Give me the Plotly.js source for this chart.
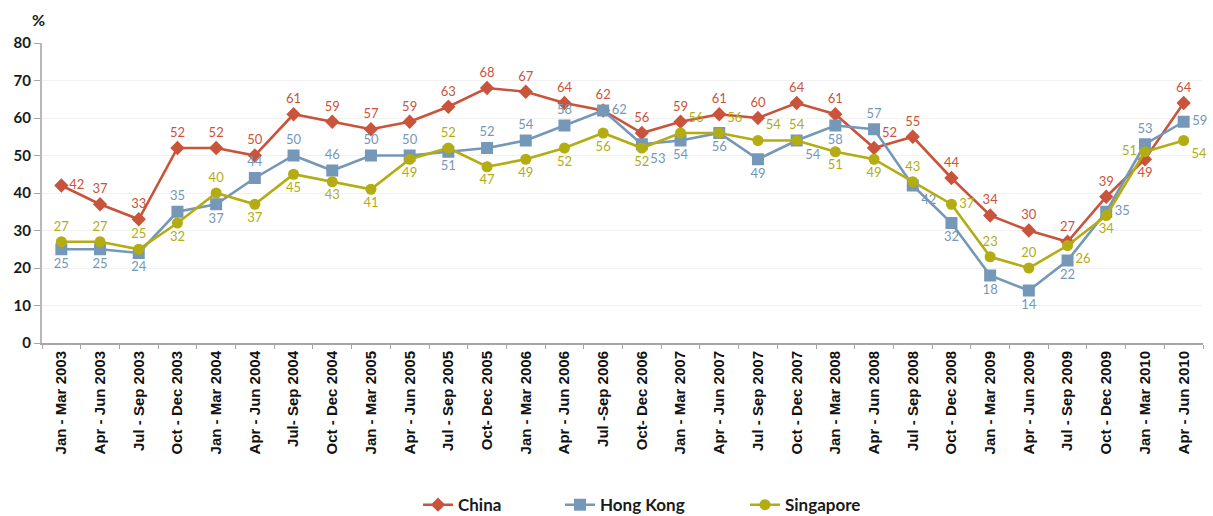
<!DOCTYPE html>
<html>
<head>
<meta charset="utf-8">
<script src="https://cdn.plot.ly/plotly-3.0.1.min.js"></script>
<style>
  html, body { margin: 0; padding: 0; background: #ffffff; }
  #chart { width: 1213px; height: 516px; }
</style>
</head>
<body>
<div id="chart"></div>
<script>
// Quarterly periods, 2003 to mid-2010
const periods = [
  "Jan - Mar 2003", "Apr - Jun 2003", "Jul - Sep 2003", "Oct - Dec 2003",
  "Jan - Mar 2004", "Apr - Jun 2004", "Jul- Sep 2004", "Oct - Dec 2004",
  "Jan - Mar 2005", "Apr - Jun 2005", "Jul - Sep 2005", "Oct- Dec 2005",
  "Jan - Mar 2006", "Apr - Jun 2006", "Jul -Sep 2006", "Oct- Dec 2006",
  "Jan - Mar 2007", "Apr - Jun 2007", "Jul - Sep 2007", "Oct - Dec 2007",
  "Jan - Mar 2008", "Apr - Jun 2008", "Jul - Sep 2008", "Oct - Dec 2008",
  "Jan - Mar 2009", "Apr - Jun 2009", "Jul - Sep 2009", "Oct - Dec 2009",
  "Jan - Mar 2010", "Apr - Jun 2010"
];

// Percentages per series
const china = [42, 37, 33, 52, 52, 50, 61, 59, 57, 59, 63, 68, 67, 64, 62, 56,
               59, 61, 60, 64, 61, 52, 55, 44, 34, 30, 27, 39, 49, 64];
const hongKong = [25, 25, 24, 35, 37, 44, 50, 46, 50, 50, 51, 52, 54, 58, 62, 53,
                  54, 56, 49, 54, 58, 57, 42, 32, 18, 14, 22, 35, 53, 59];
const singapore = [27, 27, 25, 32, 40, 37, 45, 43, 41, 49, 52, 47, 49, 52, 56, 52,
                   56, 56, 54, 54, 51, 49, 43, 37, 23, 20, 26, 34, 51, 54];

const yTicks = [0, 10, 20, 30, 40, 50, 60, 70, 80];

// Label placement for each series (style only)
const T = "top center", B = "bottom center", R = "middle right", L = "middle left",
      TR = "top right", BR = "bottom right";
const chinaPos = [R, T, T, T, T, T, T, T, T, T, T, T, T, T, T, T,
                  T, T, T, T, T, TR, T, T, T, T, T, T, B, T];
const hkPos = [B, B, B, T, B, T, T, T, T, T, B, T, T, T, R, BR,
               B, B, B, BR, B, T, BR, B, B, B, B, R, T, R];
const sgPos = [T, T, T, B, T, B, B, B, B, B, T, B, B, B, B, B,
               TR, TR, TR, T, B, B, T, R, T, T, BR, B, L, BR];

const COL_CN = "#c9533b";
const COL_HK = "#7597b8";
const COL_SG = "#b3ac12";

function series(name, y, color, symbol, size, pos, legendId) {
  return {
    type: "scatter",
    mode: "lines+markers+text",
    name: name,
    x: periods,
    y: y,
    text: y.map(String),
    textposition: pos,
    textfont: { family: "Lato, 'Open Sans', sans-serif", size: 13, color: color },
    line: { color: color, width: 2.6 },
    marker: { color: color, symbol: symbol, size: size },
    cliponaxis: false,
    legend: legendId,
    hoverinfo: "x+y+name"
  };
}

const data = [
  series("China", china, COL_CN, "diamond", 11, chinaPos, "legend"),
  series("Hong Kong", hongKong, COL_HK, "square", 12, hkPos, "legend2"),
  series("Singapore", singapore, COL_SG, "circle", 11, sgPos, "legend3")
];

function legendAt(x) {
  return {
    xref: "container", yref: "container",
    x: x, y: 0.021, xanchor: "left", yanchor: "middle",
    orientation: "h",
    bgcolor: "rgba(0,0,0,0)",
    font: { family: "Lato, 'Open Sans', sans-serif", size: 17, color: "#1a1a1a", weight: "bold" },
    itemclick: false, itemdoubleclick: false
  };
}

const layout = {
  width: 1213,
  height: 516,
  margin: { l: 42, r: 10, t: 43, b: 173 },
  paper_bgcolor: "#ffffff",
  plot_bgcolor: "#ffffff",
  showlegend: true,
  legend: legendAt(418 / 1213),
  legend2: legendAt(560 / 1213),
  legend3: legendAt(745 / 1213),
  xaxis: {
    type: "category",
    tickangle: -90,
    tickson: "boundaries",
    ticks: "outside",
    ticklen: 4,
    tickcolor: "#a6a6a6",
    showline: true,
    linecolor: "#a6a6a6",
    linewidth: 2,
    showgrid: false,
    tickfont: { family: "'Liberation Sans', Arial, sans-serif", size: 15, color: "#111111", weight: "bold" },
    range: [-0.5, periods.length - 0.5],
    fixedrange: true
  },
  yaxis: {
    range: [0, 80],
    tickvals: yTicks,
    ticktext: yTicks.map(String),
    ticks: "outside",
    ticklen: 6,
    tickcolor: "#a6a6a6",
    showline: true,
    linecolor: "#b8b8b8",
    linewidth: 2,
    showgrid: true,
    gridcolor: "#f1f1f1",
    gridwidth: 1,
    zeroline: false,
    tickfont: { family: "Lato, 'Open Sans', sans-serif", size: 15, color: "#1a1a1a", weight: "bold" },
    fixedrange: true
  },
  annotations: [{
    text: "%",
    xref: "paper", yref: "paper",
    x: -0.003, y: 1.0, xanchor: "center", yanchor: "bottom",
    yshift: 12,
    showarrow: false,
    font: { family: "Lato, 'Open Sans', sans-serif", size: 16, color: "#1a1a1a", weight: "bold" }
  }]
};

Plotly.newPlot("chart", data, layout, { displayModeBar: false, staticPlot: true });
</script>
</body>
</html>
